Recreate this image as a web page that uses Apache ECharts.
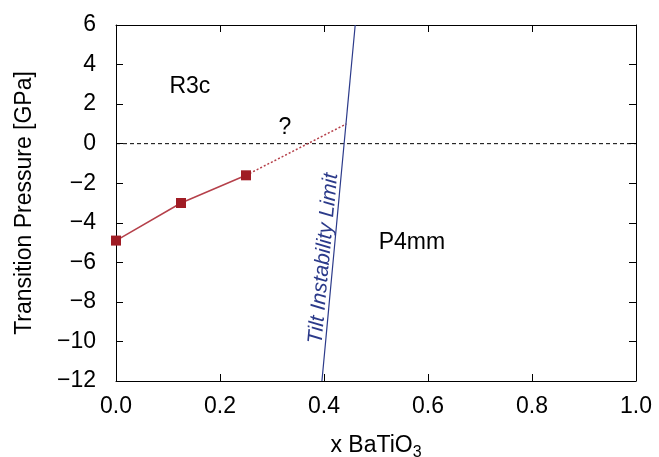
<!DOCTYPE html>
<html>
<head>
<meta charset="utf-8">
<script src="https://cdn.jsdelivr.net/npm/echarts@6/dist/echarts.min.js"></script>
<style>
	html, body { margin: 0; padding: 0; background: #fff; }
	#chart { width: 659px; height: 457px; }
</style>
</head>
<body>
<div id="chart"></div>
<script>
// calculated transition pressures
var dataX = [0.0, 0.125, 0.25];
var dataY = [-4.9, -3.0, -1.6];
// extrapolation (dotted) and tilt instability limit
var extrapX = [0.25, 0.443];
var extrapY = [-1.6, 1.0];
var limitX = [0.396, 0.46];
var limitY = [-12, 6];
var zeroX = [0, 1];
var zeroY = [0, 0];
// text annotations: [x, y, text]
var notes = [
	[0.142, 2.9, 'R3c'],
	[0.325, 0.8, '?'],
	[0.569, -5.0, 'P4mm']
];
var limitLabel = [0.399, -5.8, 'Tilt Instability Limit'];

var font = 'Liberation Sans, Arial, Helvetica, sans-serif';

function pairs(xs, ys) {
	var out = [];
	for (var i = 0; i < xs.length; i++) {
		out.push([xs[i], ys[i]]);
	}
	return out;
}

function minus(v) {
	return String(v).replace('-', '\u2212');
}

var frameLine = { onZero: false, lineStyle: { color: '#000', width: 1 } };
var frameTick = { inside: true, length: 7, lineStyle: { color: '#000' } };

var chart = echarts.init(document.getElementById('chart'));
chart.setOption({
	backgroundColor: '#fff',
	animation: false,
	grid: { left: 116, right: 23, top: 25, bottom: 76, outerBoundsMode: 'none', containLabel: false },
	xAxis: [{
		type: 'value',
		min: 0, max: 1, interval: 0.2,
		name: '{a|x BaTiO}{b|3}',
		nameLocation: 'middle',
		nameGap: 50,
		nameTextStyle: {
			rich: {
				a: { fontSize: 23, fontFamily: font, color: '#000' },
				b: { fontSize: 16, fontFamily: font, color: '#000', padding: [14, 0, 0, 0] }
			}
		},
		axisLine: frameLine,
		axisTick: frameTick,
		axisLabel: {
			fontSize: 23, fontFamily: font, color: '#000', margin: 14,
			formatter: function(v) { return v.toFixed(1); }
		},
		splitLine: { show: false }
	}, {
		type: 'value',
		position: 'top',
		min: 0, max: 1, interval: 0.2,
		axisLine: frameLine,
		axisTick: frameTick,
		axisLabel: { show: false },
		splitLine: { show: false }
	}],
	yAxis: [{
		type: 'value',
		min: -12, max: 6, interval: 2,
		name: 'Transition Pressure [GPa]',
		nameLocation: 'middle',
		nameGap: 80,
		nameTextStyle: { fontSize: 23, fontFamily: font, color: '#000' },
		axisLine: frameLine,
		axisTick: frameTick,
		axisLabel: {
			fontSize: 23, fontFamily: font, color: '#000', margin: 20,
			formatter: function(v) { return minus(v); }
		},
		splitLine: { show: false }
	}, {
		type: 'value',
		position: 'right',
		min: -12, max: 6, interval: 2,
		axisLine: frameLine,
		axisTick: frameTick,
		axisLabel: { show: false },
		splitLine: { show: false }
	}],
	series: [{
		type: 'line',
		data: pairs(zeroX, zeroY),
		symbol: 'none',
		lineStyle: { color: '#000', width: 1, type: [4, 3] },
		silent: true
	}, {
		type: 'line',
		data: pairs(extrapX, extrapY),
		symbol: 'none',
		lineStyle: { color: '#b5404a', width: 1.5, type: [2, 2] },
		silent: true
	}, {
		type: 'line',
		data: pairs(limitX, limitY),
		symbol: 'none',
		lineStyle: { color: '#2b3a8a', width: 1.2 },
		silent: true
	}, {
		type: 'line',
		data: pairs(dataX, dataY),
		symbol: 'rect',
		symbolSize: 10,
		itemStyle: { color: '#a01c24' },
		lineStyle: { color: '#b5404a', width: 1.5 },
		clip: false,
		z: 5
	}, {
		type: 'scatter',
		symbolSize: 1,
		itemStyle: { opacity: 0 },
		data: notes.map(function(n) { return { value: [n[0], n[1]], name: n[2] }; }),
		label: {
			show: true, position: 'inside', formatter: '{b}',
			fontSize: 23, fontFamily: font, color: '#000', opacity: 1
		},
		silent: true
	}, {
		type: 'scatter',
		symbolSize: 1,
		itemStyle: { opacity: 0 },
		data: [{ value: [limitLabel[0], limitLabel[1]], name: limitLabel[2] }],
		label: {
			show: true, position: 'inside', formatter: '{b}', rotate: 84.7,
			fontSize: 21, fontFamily: font, fontStyle: 'italic', color: '#2b3a8a', opacity: 1
		},
		silent: true
	}]
});
</script>
</body>
</html>
